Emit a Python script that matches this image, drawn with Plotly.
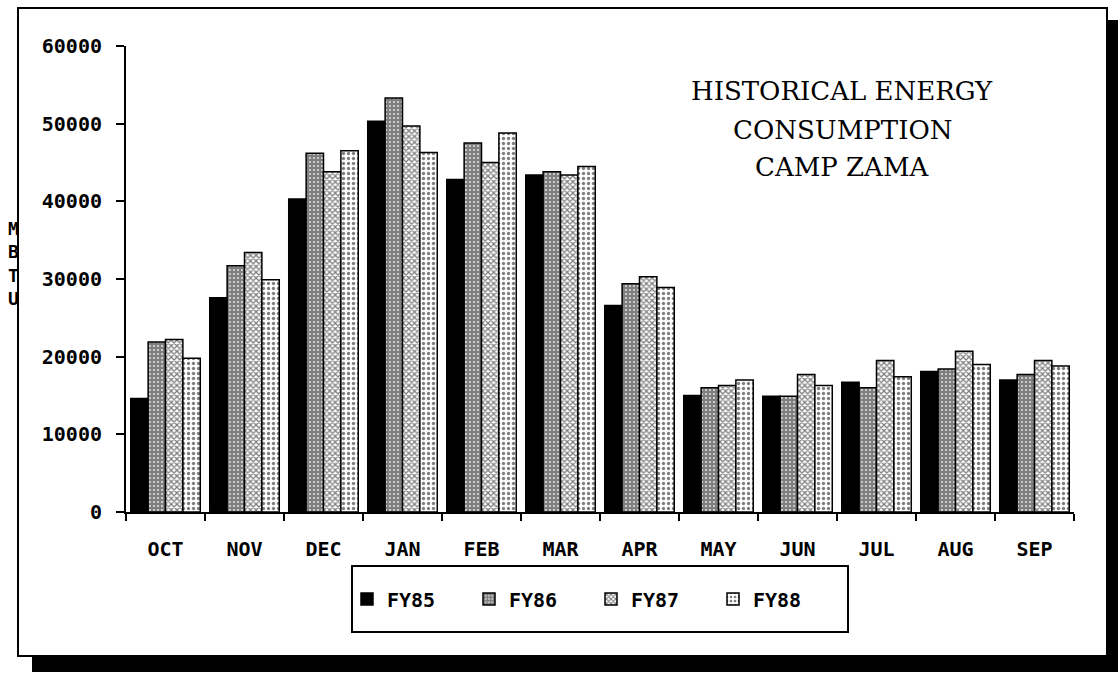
import plotly.graph_objects as go

months = ["OCT", "NOV", "DEC", "JAN", "FEB", "MAR", "APR", "MAY", "JUN", "JUL", "AUG", "SEP"]
fy85 = [14600, 27600, 40300, 50300, 42800, 43400, 26600, 15000, 14900, 16700, 18100, 17000]
fy86 = [21900, 31700, 46200, 53300, 47500, 43800, 29400, 16000, 14900, 16000, 18400, 17700]
fy87 = [22200, 33400, 43800, 49700, 45000, 43400, 30300, 16300, 17700, 19500, 20700, 19500]
fy88 = [19800, 29900, 46500, 46300, 48800, 44500, 28900, 17000, 16300, 17400, 19000, 18800]
series_names = ["FY85", "FY86", "FY87", "FY88"]
y_ticks = [0, 10000, 20000, 30000, 40000, 50000, 60000]
title_lines = ["HISTORICAL ENERGY", "CONSUMPTION", "CAMP ZAMA"]

W, H = 1118, 677
L, R, T, B = 126, 1074, 46, 512  # plot area in pixels


def px(x):
    return (x - L) / (R - L)


def py(y):
    return (B - y) / (B - T)


patterns = [
    dict(shape="", fgcolor="black", bgcolor="black", solidity=1),
    dict(shape="+", fgcolor="black", bgcolor="white", size=4, solidity=0.85),
    dict(shape="x", fgcolor="black", bgcolor="white", size=4, solidity=0.55),
    dict(shape=".", fgcolor="black", bgcolor="white", size=5, solidity=0.35),
]

fig = go.Figure()
for name, vals, pat in zip(series_names, [fy85, fy86, fy87, fy88], patterns):
    fig.add_trace(go.Bar(
        x=months, y=vals, name=name,
        marker=dict(color="black", pattern=pat, line=dict(color="black", width=1.5)),
    ))

tick_font = dict(family="DejaVu Sans Mono", size=20, color="black", weight="bold")

fig.update_layout(
    width=W, height=H,
    margin=dict(l=L, r=W - R, t=T, b=H - B, pad=0),
    paper_bgcolor="white", plot_bgcolor="white",
    barmode="group", bargap=0.12, bargroupgap=0,
    showlegend=True,
    legend=dict(
        orientation="h", x=px(591), y=py(599), xanchor="center", yanchor="middle",
        font=tick_font, bgcolor="rgba(0,0,0,0)", borderwidth=0,
        entrywidth=77, entrywidthmode="pixels", itemwidth=30, traceorder="normal",
    ),
    xaxis=dict(
        showline=True, linecolor="black", linewidth=2, ticks="outside", tickson="boundaries",
        ticklen=7, tickwidth=2, tickcolor="black", tickfont=tick_font, showgrid=False,
        ticklabelstandoff=18, fixedrange=True,
    ),
    yaxis=dict(
        range=[0, 60000], tickvals=y_ticks, ticktext=[str(v) for v in y_ticks],
        showline=True, linecolor="black", linewidth=2, ticks="outside",
        ticklen=8, tickwidth=2, tickcolor="black", tickfont=tick_font,
        showgrid=False, zeroline=False, ticklabelstandoff=10, fixedrange=True,
    ),
)

shapes = [
    # outer frame
    dict(type="rect", xref="paper", yref="paper", x0=px(18), x1=px(1107), y0=py(8), y1=py(656),
         line=dict(color="black", width=2), fillcolor="rgba(0,0,0,0)", layer="below"),
    # drop shadow bottom
    dict(type="rect", xref="paper", yref="paper", x0=px(32), x1=px(1118), y0=py(657), y1=py(672),
         line=dict(width=0), fillcolor="black"),
    # drop shadow right
    dict(type="rect", xref="paper", yref="paper", x0=px(1108), x1=px(1118), y0=py(20), y1=py(672),
         line=dict(width=0), fillcolor="black"),
    # legend box
    dict(type="rect", xref="paper", yref="paper", x0=px(352), x1=px(848), y0=py(566), y1=py(632),
         line=dict(color="black", width=2), fillcolor="rgba(0,0,0,0)"),
]
fig.update_layout(shapes=shapes)

annotations = []
for line, yy in zip(title_lines, [91, 130, 167]):
    annotations.append(dict(
        text=line, xref="paper", yref="paper", x=px(842), y=py(yy),
        xanchor="center", yanchor="middle", showarrow=False,
        font=dict(family="DejaVu Serif", size=26, color="black"),
    ))
annotations.append(dict(
    text="M<br>B<br>T<br>U", xref="paper", yref="paper", x=px(13), y=py(263),
    xanchor="center", yanchor="middle", showarrow=False, align="center",
    font=dict(family="DejaVu Sans Mono", size=18, color="black", weight="bold"),
))
fig.update_layout(annotations=annotations)

fig.write_html("out.html", config={"displayModeBar": False},
               post_script="document.body.style.margin='0';")
